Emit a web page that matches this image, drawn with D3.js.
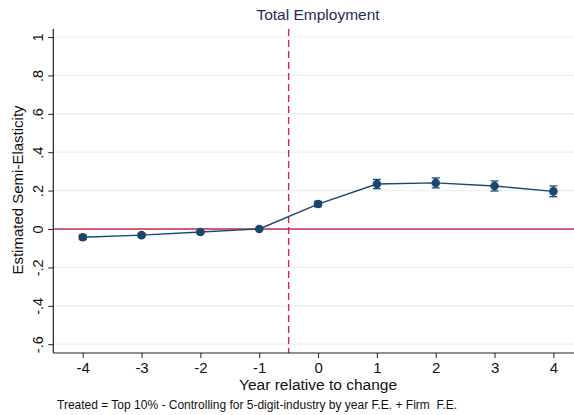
<!DOCTYPE html>
<html><head><meta charset="utf-8">
<script src="https://cdn.jsdelivr.net/npm/d3@7"></script>
<style>body{margin:0;background:#fff}svg{display:block}text{white-space:pre}</style>
</head><body>
<script>
const years = [-4,-3,-2,-1,0,1,2,3,4];
const estimates = [-0.043,-0.032,-0.016,0,0.130,0.234,0.240,0.224,0.196];
const ciLow = [-0.055,-0.041,-0.024,0,0.116,0.210,0.214,0.198,0.168];
const ciHigh = [-0.031,-0.023,-0.008,0,0.144,0.258,0.266,0.250,0.224];
const yTicks = [-0.6,-0.4,-0.2,0,0.2,0.4,0.6,0.8,1];
const yTickLabels = ["-.6","-.4","-.2","0",".2",".4",".6",".8","1"];
const xTicks = [-4,-3,-2,-1,0,1,2,3,4];
const titleText = "Total Employment";
const xLabel = "Year relative to change";
const yLabel = "Estimated Semi-Elasticity";
const noteText = "Treated = Top 10% - Controlling for 5-digit-industry by year F.E. + Firm  F.E.";

const W=574,H=415;
const svg=d3.select("body").append("svg").attr("width",W).attr("height",H);
const font="Liberation Sans, Arial, sans-serif";
const x=d3.scaleLinear().domain([-4.5,4.5]).range([53.3,582.8]);
const y=d3.scaleLinear().domain([0,1]).range([229,37]);
const plotTop=29, plotBottom=353;
const navy="#1a476f", red="#c8284c";

// gridlines
svg.append("g").selectAll("line").data(yTicks).join("line")
 .attr("x1",x(-4.5)).attr("x2",W).attr("y1",d=>y(d)).attr("y2",d=>y(d))
 .attr("stroke","#e8f0f2").attr("stroke-width",1.2);

// zero line
svg.append("line").attr("x1",x(-4.5)).attr("x2",W).attr("y1",y(0)).attr("y2",y(0))
 .attr("stroke",red).attr("stroke-width",1.5);
// vertical dashed
svg.append("line").attr("x1",x(-0.5)).attr("x2",x(-0.5)).attr("y1",plotTop).attr("y2",plotBottom)
 .attr("stroke",red).attr("stroke-width",1.4).attr("stroke-dasharray","7,4");

// axes
const yAxis=d3.axisLeft(y).tickValues(yTicks).tickFormat((d,i)=>yTickLabels[i]).tickSize(5).tickPadding(5);
const gy=svg.append("g").attr("transform",`translate(${x(-4.5)},0)`).call(yAxis);
gy.select(".domain").attr("d",`M0,${plotTop}V${plotBottom}`).attr("stroke","#222").attr("stroke-width",1.2);
gy.selectAll(".tick line").attr("stroke","#222");
gy.selectAll(".tick text").attr("font-family",font).attr("font-size",14.5).attr("fill","#111")
 .attr("transform","rotate(-90)").attr("text-anchor","middle").attr("x",0).attr("dy",0)
 .attr("y",-10);

const xAxis=d3.axisBottom(x).tickValues(xTicks).tickFormat(d3.format("d")).tickSize(5).tickPadding(4);
const gx=svg.append("g").attr("transform",`translate(0,${plotBottom})`).call(xAxis);
gx.select(".domain").attr("d",`M${x(-4.5)},0H${W}`).attr("stroke","#222").attr("stroke-width",1.2);
gx.selectAll(".tick line").attr("stroke","#222");
gx.selectAll(".tick text").attr("font-family",font).attr("font-size",15).attr("fill","#111").text(d=>d<0?"-"+Math.abs(d):d);

// error bars
const eb=svg.append("g");
years.forEach((yr,i)=>{
  if(ciHigh[i]-ciLow[i]<=0) return;
  eb.append("line").attr("x1",x(yr)).attr("x2",x(yr)).attr("y1",y(ciLow[i])).attr("y2",y(ciHigh[i])).attr("stroke",navy).attr("stroke-width",1.3);
  [ciLow[i],ciHigh[i]].forEach(v=>eb.append("line").attr("x1",x(yr)-4).attr("x2",x(yr)+4).attr("y1",y(v)).attr("y2",y(v)).attr("stroke",navy).attr("stroke-width",1.3));
});
// line
svg.append("path").datum(years.map((yr,i)=>[yr,estimates[i]]))
 .attr("d",d3.line().x(d=>x(d[0])).y(d=>y(d[1]))).attr("fill","none").attr("stroke",navy).attr("stroke-width",1.4);
svg.append("g").selectAll("circle").data(years).join("circle")
 .attr("cx",d=>x(d)).attr("cy",(d,i)=>y(estimates[i])).attr("r",4.3).attr("fill",navy);

// texts
svg.append("text").attr("x",x(0)).attr("y",20).attr("text-anchor","middle").attr("font-family",font).attr("font-size",15.5).attr("fill","#1e2d53").text(titleText);
svg.append("text").attr("x",x(0)).attr("y",390).attr("text-anchor","middle").attr("font-family",font).attr("font-size",15.5).attr("fill","#111").text(xLabel);
svg.append("text").attr("transform",`translate(23,190) rotate(-90)`).attr("text-anchor","middle").attr("font-family",font).attr("font-size",15).attr("fill","#111").text(yLabel);
svg.append("text").attr("x",57).attr("y",409).attr("font-family",font).attr("font-size",12).attr("fill","#111").text(noteText);
</script>
</body></html>
